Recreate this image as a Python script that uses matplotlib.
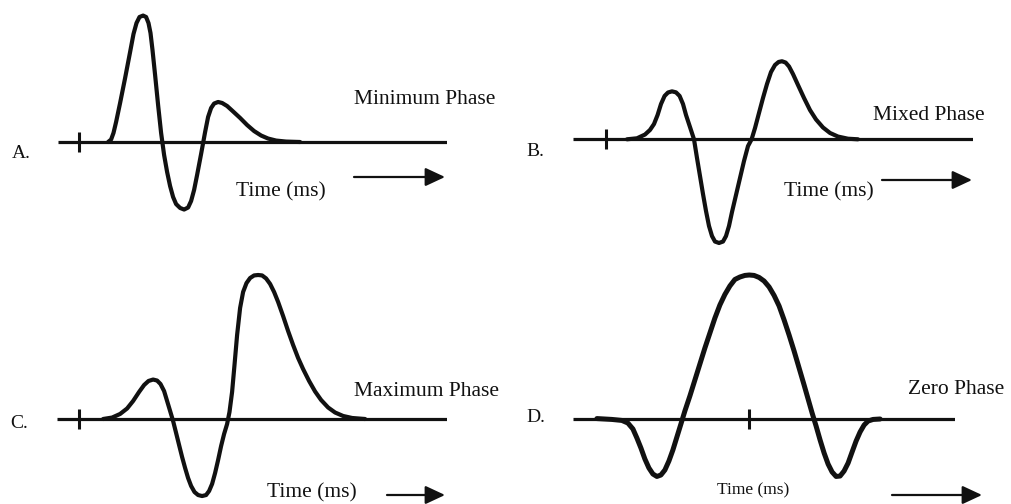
import matplotlib.pyplot as plt
from matplotlib.patches import FancyArrowPatch

plt.rcParams['font.family'] = ['Liberation Serif', 'DejaVu Serif']

# Wavelet samples: time in ms from the onset tick, amplitude in percent of
# the largest peak
t_min = [14.4, 15.9, 17.1, 18.4, 20.4, 22.9, 25.4, 27.1, 28.6, 30.1, 31.9,
         33.4, 34.6, 35.6, 36.6, 37.9, 39.4, 40.9, 42.4, 43.9, 45.4, 46.9,
         48.4, 50.4, 52.4, 54.4, 55.9, 57.4, 58.9, 60.9, 62.9, 64.4, 65.9,
         67.4, 69.4, 71.4, 73.9, 76.9, 80.4, 83.9, 87.4, 90.9, 94.4, 98.4,
         103.4, 110.4]
a_min = [0.0, 1.7, 6.3, 13.9, 27.1, 44.4, 62.5, 75.0, 82.6, 86.8, 87.8,
         86.8, 82.6, 75.7, 63.9, 46.5, 25.7, 6.3, -9.0, -20.8, -30.6, -38.2,
         -43.1, -45.8, -46.9, -45.5, -41.0, -33.3, -22.9, -8.3, 6.9, 17.4,
         23.6, 26.7, 27.8, 27.1, 25.0, 21.2, 16.7, 11.8, 7.6, 4.5, 2.4, 1.0,
         0.3, 0.0]

t_mixed = [10.5, 15.5, 19.5, 22.0, 24.0, 25.8, 27.5, 29.3, 31.0, 33.0, 35.0,
           36.8, 38.5, 40.0, 42.0, 44.0, 45.5, 47.0, 48.5, 50.0, 51.5, 53.0,
           54.5, 56.5, 58.5, 60.0, 61.5, 63.0, 65.0, 67.0, 69.0, 71.0, 72.8,
           74.5, 76.5, 78.5, 80.5, 82.5, 84.5, 86.3, 88.0, 89.8, 91.5, 93.5,
           96.0, 99.0, 102.0, 105.0, 108.5, 112.0, 116.0, 121.0, 126.0]
a_mixed = [0.0, 0.7, 3.3, 6.5, 10.6, 16.9, 24.5, 30.1, 32.5, 33.3, 32.6, 30.1,
           24.5, 16.9, 8.5, 0.0, -13.0, -25.5, -38.0, -49.8, -60.2, -67.2,
           -71.0, -72.0, -71.0, -67.2, -60.2, -50.5, -38.7, -26.9, -15.1, -4.7,
           0.0, 7.8, 18.3, 28.7, 38.4, 46.7, 51.6, 53.7, 54.2, 53.3, 50.6, 45.3,
           37.7, 28.7, 20.3, 13.8, 8.2, 4.4, 1.9, 0.4, 0.0]

t_max = [11.9, 16.4, 20.4, 23.9, 26.9, 29.9, 32.4, 34.6, 36.9, 38.9, 40.6,
         42.4, 43.9, 45.4, 46.9, 48.4, 49.9, 51.4, 52.9, 54.4, 55.9, 57.6,
         59.4, 61.4, 63.4, 64.9, 66.4, 67.9, 69.4, 70.9, 72.4, 73.9, 75.1,
         76.4, 77.6, 78.9, 80.4, 81.9, 83.6, 85.4, 87.4, 89.4, 91.4, 93.4,
         95.4, 97.4, 99.4, 101.9, 104.4, 106.9, 109.4, 111.9, 114.9, 117.9,
         120.9, 124.4, 127.9, 131.9, 136.4, 142.9]
a_max = [0.0, 1.0, 3.5, 7.3, 12.5, 18.8, 23.6, 26.4, 27.4, 26.7, 24.3, 19.4,
         12.5, 5.6, -1.4, -9.7, -18.1, -26.4, -34.0, -41.0, -46.5, -50.7,
         -52.8, -53.5, -52.8, -50.0, -45.1, -37.5, -28.5, -18.8, -10.4, -3.5,
         4.9, 18.8, 37.5, 58.3, 77.1, 88.2, 94.4, 97.9, 99.7, 100.0, 99.7,
         97.6, 93.8, 88.2, 81.3, 71.5, 61.1, 51.4, 42.4, 34.7, 26.4, 19.1,
         13.2, 8.0, 4.5, 2.1, 0.7, 0.0]

t_zero = [-76.2, -68.7, -63.7, -60.7, -58.2, -56.2, -54.2, -52.2, -50.2,
          -48.2, -46.2, -44.2, -42.2, -40.2, -38.2, -36.2, -34.2, -32.2,
          -29.7, -27.2, -24.7, -22.2, -19.7, -17.2, -14.7, -12.2, -9.7, -7.2,
          -4.7, -2.2, 0.0, 2.4, 4.9, 7.4, 9.9, 12.4, 14.9, 17.4, 19.9, 22.4,
          24.9, 27.4, 29.4, 31.4, 33.4, 35.4, 37.4, 39.4, 41.4, 43.4, 45.4,
          47.4, 49.4, 51.4, 53.4, 55.4, 57.4, 59.4, 61.9, 65.4]
a_zero = [0.3, -0.3, -1.0, -2.8, -6.9, -13.2, -20.1, -27.8, -34.0, -38.2,
          -39.9, -38.9, -35.4, -29.2, -21.5, -12.5, -3.5, 5.6, 16.0, 27.1,
          38.2, 49.3, 59.7, 70.1, 79.2, 86.5, 92.4, 96.9, 98.6, 99.7, 100.0,
          99.7, 98.3, 95.8, 91.7, 85.8, 78.5, 68.8, 58.3, 47.2, 35.4, 23.6,
          13.9, 4.2, -4.9, -14.6, -23.6, -31.3, -36.8, -39.9, -39.6, -36.1,
          -30.6, -22.9, -15.3, -9.0, -4.2, -1.4, -0.3, 0.0]

letters = ['A.', 'B.', 'C.', 'D.']
names = ['Minimum Phase', 'Mixed Phase', 'Maximum Phase', 'Zero Phase']
xlabel = 'Time (ms)'

W, H = 1011, 504
PX_PER_MS = 2.0
PX_PER_PCT = 1.44
INK = '#111111'

fig = plt.figure(figsize=(W / 100, H / 100), dpi=100)
fig.patch.set_facecolor('white')


def fx(x):
    return x / W


def fy(y):
    return 1 - y / H


def panel(x0, x1, top, bottom, tick_x, base_y, t, a, lw=3.0):
    ax = fig.add_axes([fx(x0), fy(bottom), (x1 - x0) / W, (bottom - top) / H])
    ax.set_xlim((x0 - tick_x) / PX_PER_MS, (x1 - tick_x) / PX_PER_MS)
    ax.set_ylim((base_y - bottom) / PX_PER_PCT, (base_y - top) / PX_PER_PCT)
    ax.axis('off')
    ax.axhline(0, color=INK, lw=2.3, solid_capstyle='butt')
    ax.plot(0, 0, marker='|', ms=14, mew=2.2, color=INK)
    ax.plot(t, a, color=INK, lw=lw, solid_joinstyle='round',
            solid_capstyle='round', clip_on=False)
    return ax


def arrow(x0, x1, y):
    fig.add_artist(FancyArrowPatch(
        (fx(x0), fy(y)), (fx(x1), fy(y)), transform=fig.transFigure,
        arrowstyle='-|>,head_length=0.6,head_width=0.28', mutation_scale=20,
        color=INK, lw=1.6, shrinkA=0, shrinkB=0))


panel(58, 447, 0, 250, 79.3, 142, t_min, a_min)
panel(573, 973, 0, 250, 606, 139.3, t_mixed, a_mixed)
panel(57, 447, 250, 504, 79.3, 419, t_max, a_max)
panel(573, 955, 250, 504, 749.3, 419, t_zero, a_zero, lw=3.6)

# panel letters
for s, (x, y) in zip(letters, [(12, 153), (526, 152), (10, 424), (526, 418)]):
    fig.text(fx(x), fy(y), s, ha='left', va='center', fontsize=14, color=INK)

# wavelet names
for s, (x, y) in zip(names, [(354, 99), (873, 115), (354, 392), (908, 390)]):
    fig.text(fx(x), fy(y), s, ha='left', va='center', fontsize=15.5, color=INK)

# time axis captions and arrows
for (x, y, fs) in [(281, 192, 15.5), (829, 192, 15.5), (312, 493, 15.5),
                   (753, 490, 12.5)]:
    fig.text(fx(x), fy(y), xlabel, ha='center', va='center', fontsize=fs,
             color=INK)

arrow(354, 445, 177)
arrow(882, 972, 180)
arrow(387, 445, 495)
arrow(892, 982, 495)

fig.savefig('out.png', dpi=100)
